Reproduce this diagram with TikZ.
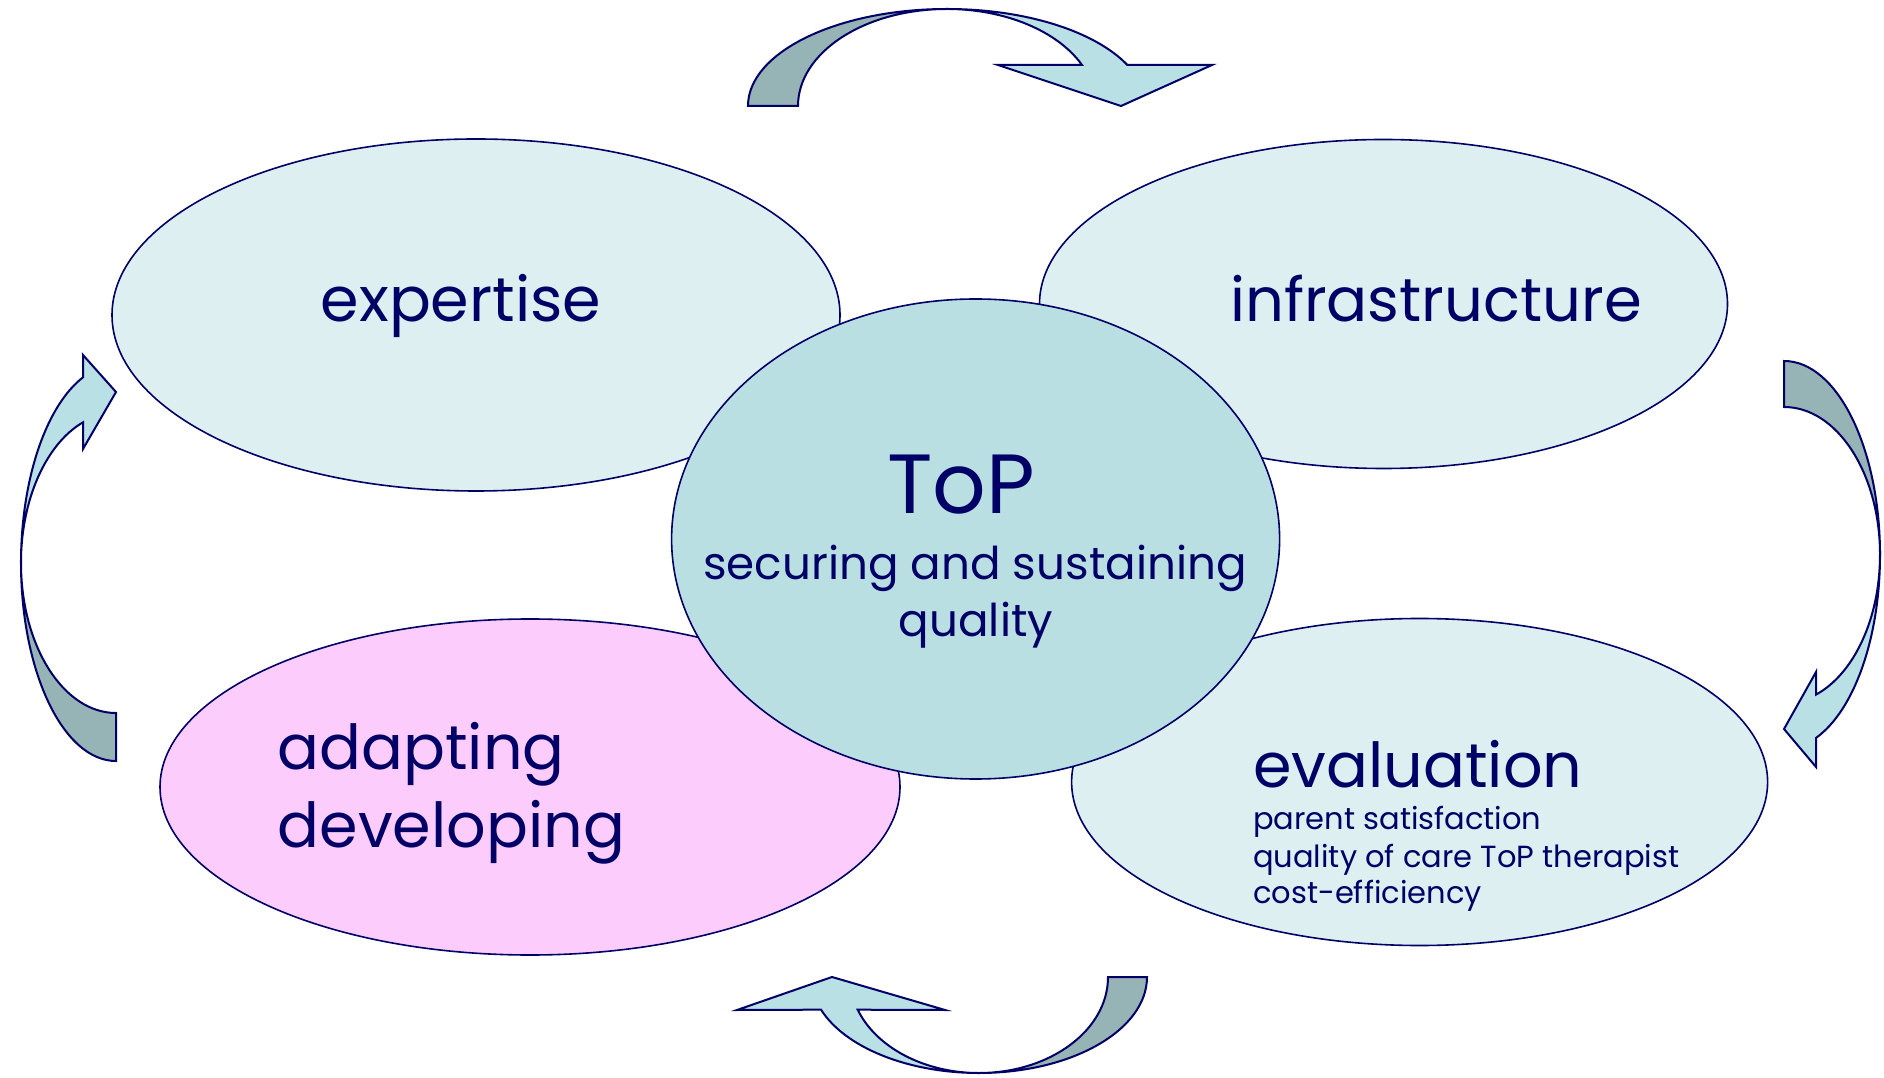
\documentclass[tikz,border=0pt]{standalone}
\usepackage{fontspec}
\setmainfont{Poppins}
\usetikzlibrary{shapes.geometric}
\definecolor{navy}{RGB}{0,0,102}
\definecolor{palefill}{RGB}{222,239,242}
\definecolor{corefill}{RGB}{185,223,227}
\definecolor{pinkfill}{RGB}{252,204,252}
\definecolor{darkband}{RGB}{150,179,182}
\definecolor{lightband}{RGB}{185,224,228}
\begin{document}
\begin{tikzpicture}[x=1pt,y=1pt,
  blob/.style={ellipse, draw=navy, line width=1.6pt, inner sep=0pt, outer sep=0pt},
  band/.style={draw=navy, line width=2pt, line join=miter},
  backband/.style={band, fill=darkband},
  frontband/.style={band, fill=lightband},
  biglbl/.style={text=navy, inner sep=0pt, font=\fontsize{62}{62}\selectfont},
  infralbl/.style={text=navy, inner sep=0pt, font=\fontsize{60.8}{62}\selectfont},
  toplbl/.style={text=navy, inner sep=0pt, font=\fontsize{84}{84}\selectfont},
  midlbl/.style={text=navy, inner sep=0pt, font=\fontsize{45.2}{45}\selectfont},
  smalllbl/.style={text=navy, inner sep=0pt, font=\fontsize{30.5}{31}\selectfont}]
\path[use as bounding box, fill=white] (0,0) rectangle (1884,1077);

% top curved arrow
\filldraw[backband] (748,971) arc[start angle=180, end angle=90, x radius=199pt, y radius=97pt]
  arc[start angle=90, end angle=180, x radius=149pt, y radius=97pt] -- cycle;
\filldraw[frontband] (947,1068) arc[start angle=90, end angle=25, x radius=199pt, y radius=97pt]
  -- (1212,1012) -- (1121,971) -- (998,1012) -- (1082,1012)
  arc[start angle=25, end angle=90, x radius=149pt, y radius=97pt] -- cycle;

% right curved arrow
\filldraw[backband] (1784,716) arc[start angle=90, end angle=0, x radius=96pt, y radius=194pt]
  arc[start angle=0, end angle=90, x radius=96pt, y radius=148pt] -- cycle;
\filldraw[frontband] (1880,522) arc[start angle=0, end angle=-70.5, x radius=96pt, y radius=194pt]
  -- (1816,310) -- (1784,348) -- (1816,405) -- (1816,382.4)
  arc[start angle=-70.5, end angle=0, x radius=96pt, y radius=148pt] -- cycle;

% left curved arrow
\filldraw[backband] (116,316) arc[start angle=270, end angle=180, x radius=95pt, y radius=198pt]
  arc[start angle=180, end angle=270, x radius=95pt, y radius=150pt] -- cycle;
\filldraw[frontband] (21,514) arc[start angle=180, end angle=110.3, x radius=95pt, y radius=198pt]
  -- (83,722) -- (116,685) -- (83,628) -- (83,654.7)
  arc[start angle=110.3, end angle=180, x radius=95pt, y radius=150pt] -- cycle;

% bottom curved arrow
\filldraw[backband] (1147,100) arc[start angle=0, end angle=-90, x radius=168pt, y radius=96pt]
  arc[start angle=-90, end angle=0, x radius=129pt, y radius=96pt] -- cycle;
\filldraw[frontband] (979,4) arc[start angle=270, end angle=199.9, x radius=168pt, y radius=96pt]
  -- (737,67) -- (832,100) -- (945,67) -- (857.7,67.3)
  arc[start angle=199.9, end angle=270, x radius=129pt, y radius=96pt] -- cycle;

% ellipses
\node[blob, fill=palefill, minimum width=728pt, minimum height=352pt] (expertise) at (476,762) {};
\node[blob, fill=palefill, minimum width=688pt, minimum height=329pt] (infra) at (1383.5,773) {};
\node[blob, fill=pinkfill, minimum width=740pt, minimum height=336pt] (adapt) at (530,290) {};
\node[blob, fill=palefill, minimum width=696pt, minimum height=327pt] (eval) at (1419.6,295) {};
\node[blob, fill=corefill, minimum width=608pt, minimum height=480pt] (core) at (975.6,538) {};

% texts
\node[biglbl, anchor=base] (texpertise) at (461,755) {expertise};
\node[infralbl, anchor=base] (tinfra) at (1436,755) {infrastructure};
\node[toplbl, anchor=base] (ttop) at (961,563) {ToP};
\node[midlbl, anchor=base] (tsecure) at (975,497) {securing and sustaining};
\node[midlbl, anchor=base] (tquality) at (976,440) {quality};
\node[biglbl, anchor=base west] (tadapt) at (277.5,308) {adapting};
\node[biglbl, anchor=base west] (tdevelop) at (277.5,230) {developing};
\node[biglbl, anchor=base west] (teval) at (1253,290) {evaluation};
\node[smalllbl, anchor=base west] (tparent) at (1253,248) {parent satisfaction};
\node[smalllbl, anchor=base west] (tcare) at (1253,210) {quality of care ToP therapist};
\node[smalllbl, anchor=base west] (tcost) at (1253,174) {cost-efficiency};
\end{tikzpicture}
\end{document}
